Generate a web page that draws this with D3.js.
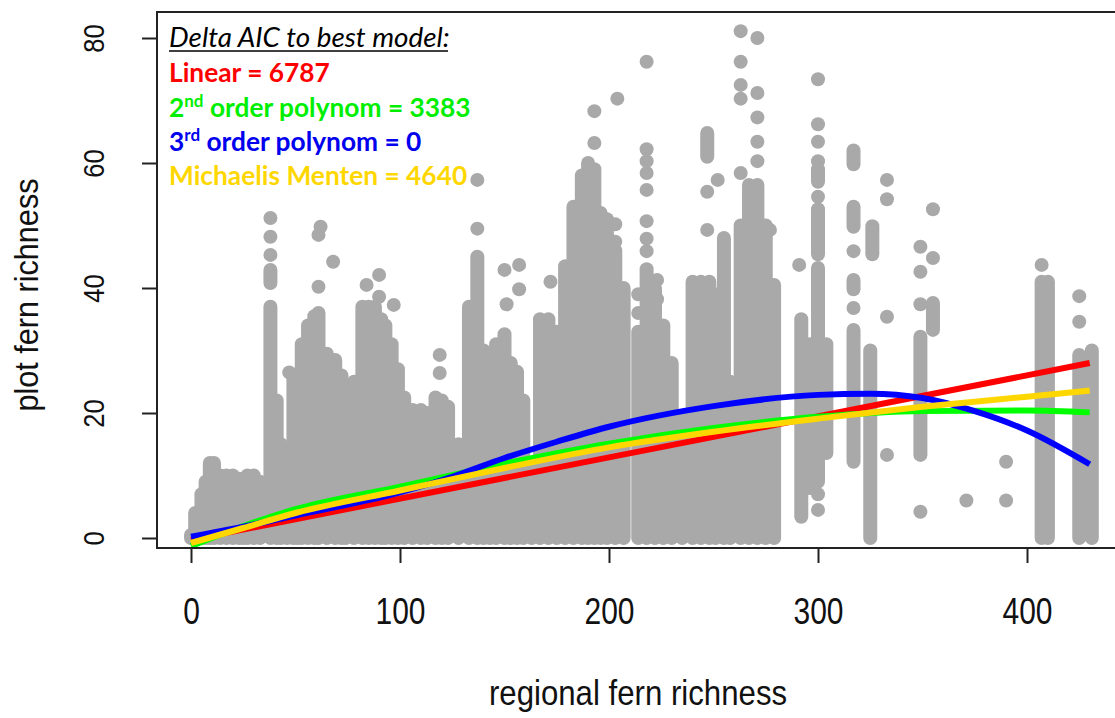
<!DOCTYPE html>
<html>
<head>
<meta charset="utf-8">
<script src="https://cdn.jsdelivr.net/npm/d3@7"></script>
<style>
  body { margin: 0; background: #fff; }
  svg { display: block; }
  .axis-text { font-family: "Liberation Sans", Arial, sans-serif; font-size: 30px; fill: #111; }
  .leg { font-family: Lato, "Open Sans", sans-serif; font-size: 26.3px; font-weight: bold; }
</style>
</head>
<body>
<script>
// vertical runs of overlapping points (regional richness, lowest and highest plot richness)
const stripX = [0,2,5,7,9,11,14,17,20,23,25,27,30,33,38,38,41,43,46,49,51,53,56,59,61,65,69,72,74,78,
  82,85,88,91,93,96,99,102,106,110,113,117,120,123,128,133,137,140,143,146,150,153,156,159,163,
  167,171,175,179,183,187,190,193,196,199,203,207,214,218,222,226,230,235,240,244,247,248,251,255,258,
  263,267,271,275,279,292,296,300,300,300,304,317,317,317,317,325,326,349,355,407,410,425,431];
const stripLow = [0,0,0,0,0,0,0,0,0,0,0,0,0,0,0,40.8,0,0,0,0,0,0,0,0,0,0,0,0,0,0,
  0,0,0,0,0,0,0,0,0,0,0,0,0,0,0,0,0,0,0,0,0,0,0,0,0,
  0,0,0,0,0,0,0,0,0,0,0,0,0,0,0,0,0,0,0,0,61,0,0,0,0,
  0,0,0,0,0,3.4,8,9,45.4,57,13.6,12.2,39.8,49.8,59.8,0,45.4,13.3,33.3,0,0,0,0];
const stripHigh = [0.5,4,7,9,12,12,10,10,10,9.5,8.7,10,10,9,37,42.9,22,15,12,26,26,31,34,35.5,36,29.5,28.5,26,24,25,
  37,37,37,35,34,31,27,22.5,20.5,20.5,20,22.5,22,21,15,37,45,30,29,31,32.6,28,26.6,22,11,
  35,35,33,43.5,53,58,60,59,52,51,46,40,33,43,40,34,28,19,41,41,64.8,41,39,48,25,
  50,56.5,56.5,50,40.5,35,31,43.2,52.6,59,31,33.3,41.3,53,62,30,49.9,32.2,37.6,41,41,29.3,30];

// isolated points
const dotX = [38,38,38,47,61,61,62,68,84,90,90,97,119,119,137,137,150,151,157,157,172,193,193,203,203,204,
  214,214,218,218,218,218,218,218,218,218,223,223,247,247,252,263,263,263,263,263,271,271,271,271,271,277,
  291,300,300,300,300,300,300,300,317,317,333,333,333,333,349,349,349,349,355,355,371,390,390,407,425,425];
const dotY = [45.3,48.2,51.2,26.5,40.2,48.5,49.8,44.2,40.5,38.6,42.1,37.3,26.4,29.3,49.5,57.3,42.9,37.4,43.7,39.8,41,63.2,68.3,47.4,50.2,70.3,
  36,39,45.9,47.9,50.7,55.7,58.4,60.3,62.2,76.2,38.2,41.3,49.3,55.4,57.3,58.4,70.3,72.5,76.2,81.1,60.3,63.4,67.3,71.2,80,49.3,
  43.7,54.6,60.3,63.4,66.2,73.4,7,4.5,36.8,45.9,57.3,54.2,35.4,13.3,37.4,42.6,46.6,4.2,44.8,52.6,6,12.2,6,43.7,34.6,38.7];

// fitted curves
const linearX = [0, 200, 430];
const linearY = [-0.3, 12.9, 28.0];
const quadX = [0, 25, 50, 100, 150, 200, 250, 300, 350, 400, 430];
const quadY = [-1.3, 1.9, 4.6, 8.2, 11.9, 15.1, 17.6, 19.4, 20.3, 20.4, 20.1];
const cubicX = [0, 25, 50, 100, 125, 150, 175, 200, 250, 300, 325, 350, 375, 400, 430];
const cubicY = [0.2, 1.8, 3.6, 7.3, 9.8, 12.8, 15.4, 17.8, 21.1, 22.9, 23.1, 22.4, 20.3, 17.2, 11.8];
const mmX = [0, 25, 50, 100, 150, 200, 250, 300, 350, 400, 430];
const mmY = [-0.8, 1.6, 4.0, 7.6, 11.2, 14.5, 17.0, 19.1, 21.0, 22.6, 23.6];

const xTicks = [0, 100, 200, 300, 400];
const yTicks = [0, 20, 40, 60, 80];

const W = 1115, H = 718;
const box = {left: 157, top: 12, right: 1126, bottom: 548};

const svg = d3.select("body").append("svg").attr("width", W).attr("height", H);
svg.append("rect").attr("width", W).attr("height", H).attr("fill", "#fff");

const x = d3.scaleLinear().domain([0, 400]).range([191, 1027]);
const y = d3.scaleLinear().domain([0, 80]).range([538, 38]);

svg.append("clipPath").attr("id", "plotclip").append("rect")
  .attr("x", box.left).attr("y", box.top)
  .attr("width", box.right - box.left).attr("height", box.bottom - box.top);

const plot = svg.append("g").attr("clip-path", "url(#plotclip)");
const grey = "#a9a9a9";

plot.selectAll("line.strip")
  .data(stripX)
  .enter().append("line")
  .attr("class", "strip")
  .attr("x1", d => x(d)).attr("x2", d => x(d))
  .attr("y1", (d, i) => y(stripLow[i])).attr("y2", (d, i) => y(stripHigh[i]))
  .attr("stroke", grey).attr("stroke-width", 14).attr("stroke-linecap", "round");

plot.selectAll("circle.dot")
  .data(dotX)
  .enter().append("circle")
  .attr("class", "dot")
  .attr("cx", d => x(d)).attr("cy", (d, i) => y(dotY[i]))
  .attr("r", 7).attr("fill", grey);

const line = d3.line().x(d => x(d[0])).y(d => y(d[1])).curve(d3.curveMonotoneX);
const fits = [
  {xs: linearX, ys: linearY, color: "#ff0000"},
  {xs: quadX, ys: quadY, color: "#00ff00"},
  {xs: cubicX, ys: cubicY, color: "#0000ff"},
  {xs: mmX, ys: mmY, color: "#ffd700"}
];
fits.forEach(f => {
  plot.append("path")
    .attr("d", line(f.xs.map((v, i) => [v, f.ys[i]])))
    .attr("fill", "none").attr("stroke", f.color).attr("stroke-width", 6);
});

// box and axes
svg.append("rect")
  .attr("x", box.left).attr("y", box.top)
  .attr("width", box.right - box.left).attr("height", box.bottom - box.top)
  .attr("fill", "none").attr("stroke", "#222").attr("stroke-width", 2);

const xAxis = svg.append("g").attr("transform", "translate(0," + box.bottom + ")")
  .call(d3.axisBottom(x).tickValues(xTicks).tickSize(15).tickFormat(d3.format("d")));
xAxis.select(".domain").remove();
xAxis.selectAll("line").attr("stroke", "#222").attr("stroke-width", 2);
xAxis.selectAll("text").remove();
xAxis.selectAll(".tick").append("text")
  .attr("class", "axis-text")
  .attr("transform", "translate(0,76) scale(1,1.2)")
  .attr("text-anchor", "middle")
  .text(d => d);

const yAxis = svg.append("g").attr("transform", "translate(" + box.left + ",0)")
  .call(d3.axisLeft(y).tickValues(yTicks).tickSize(15).tickFormat(d3.format("d")));
yAxis.select(".domain").remove();
yAxis.selectAll("line").attr("stroke", "#222").attr("stroke-width", 2);
yAxis.selectAll("text").remove();
yAxis.selectAll(".tick").append("text")
  .attr("class", "axis-text")
  .attr("transform", "translate(-53,0) rotate(-90) scale(0.85,1)")
  .attr("text-anchor", "middle")
  .text(d => d);

svg.append("text").attr("class", "axis-text")
  .attr("transform", "translate(638,705) scale(1.04,1.2)").attr("text-anchor", "middle")
  .text("regional fern richness");
svg.append("text").attr("class", "axis-text")
  .attr("transform", "translate(38,295) rotate(-90) scale(1.02,1.1)").attr("text-anchor", "middle")
  .text("plot fern richness");

// legend text
const leg = svg.append("g").attr("transform", "translate(169,0)");
leg.append("text").attr("class", "leg").attr("y", 47)
  .style("font-weight", "normal").style("font-style", "italic").style("font-size", "27.8px").attr("fill", "#000")
  .text("Delta AIC to best model:");
leg.append("line").attr("x1", 0).attr("x2", 279).attr("y1", 51).attr("y2", 51)
  .attr("stroke", "#000").attr("stroke-width", 1.5);
leg.append("text").attr("class", "leg").attr("y", 82).attr("fill", "#ff0000").text("Linear = 6787");
const l2 = leg.append("text").attr("class", "leg").attr("y", 117).attr("fill", "#00ee00");
l2.append("tspan").text("2");
l2.append("tspan").attr("dy", -10).style("font-size", "17px").text("nd");
l2.append("tspan").attr("dy", 10).text(" order polynom = 3383");
const l3 = leg.append("text").attr("class", "leg").attr("y", 151).attr("fill", "#0000ee");
l3.append("tspan").text("3");
l3.append("tspan").attr("dy", -10).style("font-size", "17px").text("rd");
l3.append("tspan").attr("dy", 10).text(" order polynom = 0");
leg.append("text").attr("class", "leg").attr("y", 185).attr("fill", "#ffd700").text("Michaelis Menten = 4640");
</script>
</body>
</html>
